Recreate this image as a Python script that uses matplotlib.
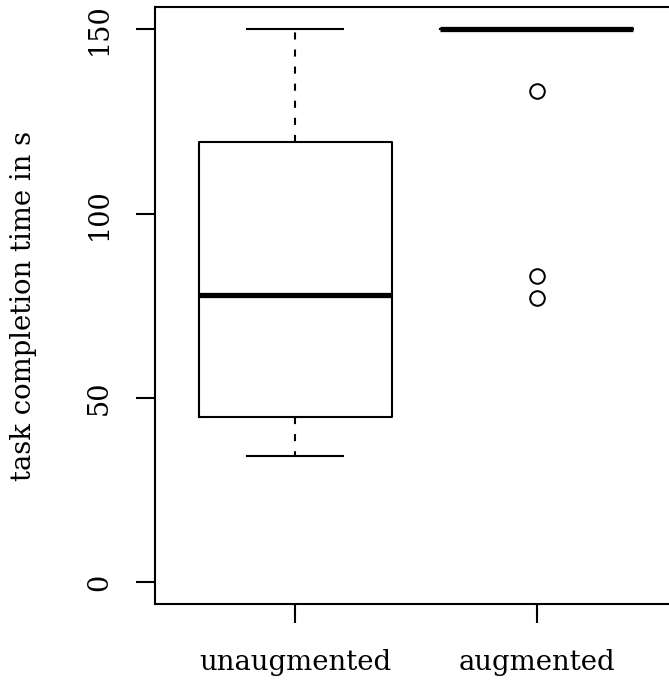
import matplotlib
matplotlib.use('Agg')
import matplotlib.pyplot as plt

categories = ['unaugmented', 'augmented']
q1 = [44.8, 150.0]
med = [78.0, 150.0]
q3 = [119.5, 150.0]
whislo = [34.2, 150.0]
whishi = [150.0, 150.0]
fliers = [[], [133.3, 83.1, 77.0]]
yticks = [0, 50, 100, 150]
ylabel = 'task completion time in s'

plt.rcParams['font.family'] = ['DejaVu Serif']

W, H = 669, 684
fig = plt.figure(figsize=(W / 100, H / 100), dpi=100)
ax = fig.add_axes([155 / W, (H - 604.3) / H, 522 / W, (604.3 - 7.3) / H])

stats = [dict(label=c, q1=a, med=m, q3=b, whislo=lo, whishi=hi, fliers=f)
         for c, a, m, b, lo, hi, f in zip(categories, q1, med, q3, whislo, whishi, fliers)]

lw = 1.5
ax.bxp(stats, positions=[1, 2], widths=0.8, capwidths=0.4,
       boxprops=dict(color='black', linewidth=lw),
       medianprops=dict(color='black', linewidth=3.8, solid_capstyle='butt'),
       whiskerprops=dict(color='black', linewidth=lw, linestyle=(0, (3.4, 4.8))),
       capprops=dict(color='black', linewidth=lw),
       flierprops=dict(marker='o', markerfacecolor='none', markeredgecolor='black',
                       markersize=10.5, markeredgewidth=1.45))

ax.set_xlim(0.42, 2.58)
ax.set_ylim(-6, 156)
ax.set_yticks(yticks)
ax.set_yticklabels([str(v) for v in yticks])

for s in ax.spines.values():
    s.set_linewidth(lw)

ax.tick_params(axis='both', direction='out', length=13.7, width=lw, color='black')
ax.tick_params(axis='x', labelsize=19.8, pad=18.5)
ax.tick_params(axis='y', labelsize=19.5, pad=16.5, labelrotation=90)
for lbl in ax.get_yticklabels():
    lbl.set_va('center')

ax.set_ylabel(ylabel, fontsize=19.8)
ax.yaxis.set_label_coords((24 - 155) / 522, 0.5)
ax.yaxis.label.set_va('center')

fig.savefig('out.png', dpi=100)
